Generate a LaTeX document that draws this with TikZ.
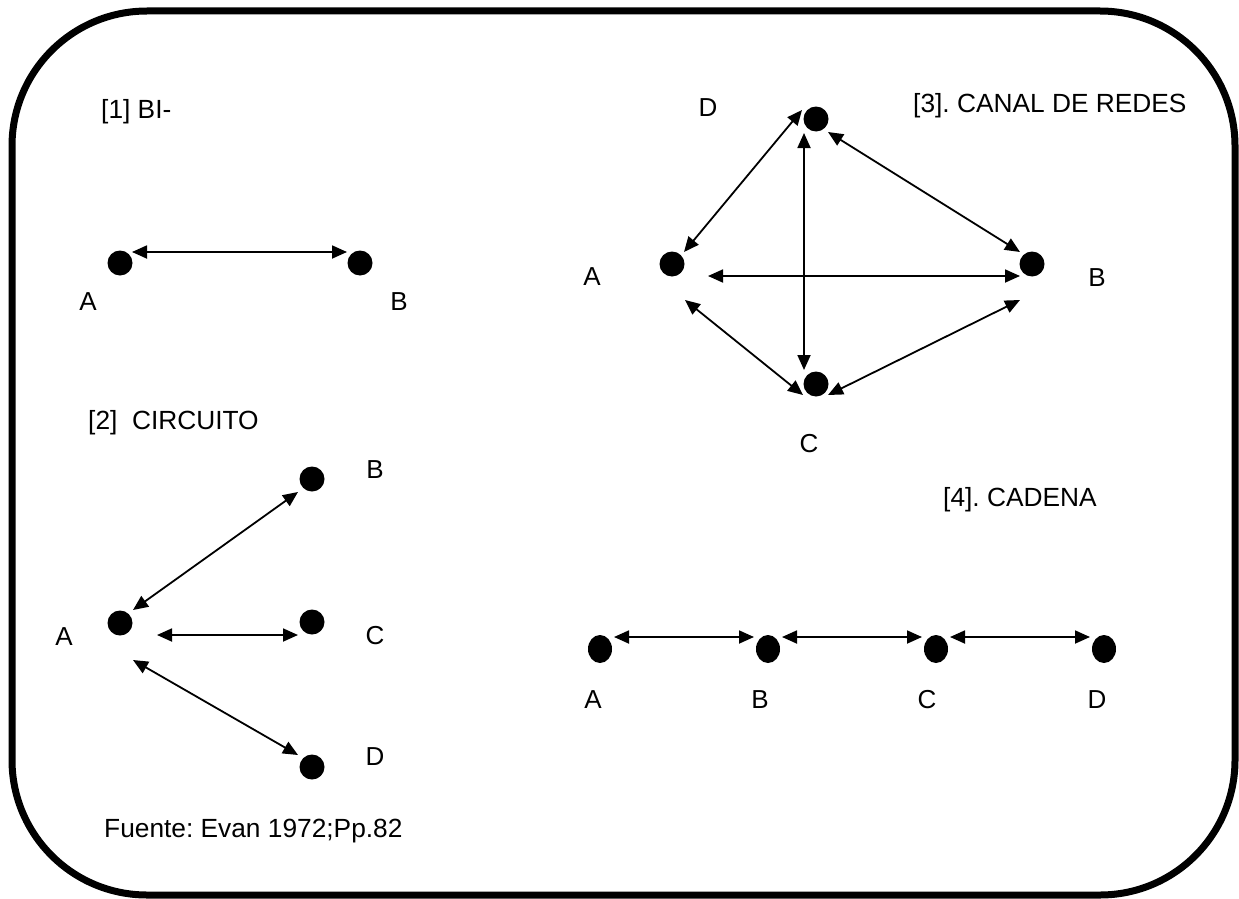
\documentclass[tikz,border=0pt]{standalone}
\usepackage{fontspec}
\setmainfont{Liberation Sans}
\usetikzlibrary{arrows.meta,calc,shapes.geometric}
\tikzset{
  dot/.style={circle,fill=black,inner sep=0pt,minimum size=25pt},
  dotv/.style={ellipse,fill=black,inner sep=0pt,minimum width=24pt,minimum height=28pt},
  lbl/.style={font=\fontsize{26}{30}\selectfont,inner sep=0pt},
  ttl/.style={font=\fontsize{26.3}{30}\selectfont\frenchspacing,inner sep=0pt,anchor=base west},
  link/.style={line width=1.8pt,{Triangle[length=15pt,width=13pt]}-{Triangle[length=15pt,width=13pt]}},
  frame/.style={line width=7pt,rounded corners=135pt}
}
\begin{document}
\begin{tikzpicture}[x=1pt,y=-1pt]
\useasboundingbox (0,0) rectangle (1239,899);
\draw[frame] (12,11) rectangle (1235,895);

% Panel 1
\node[ttl] (t1) at (101,118) {[1] BI-};
\node[dot] (A1) at (120,263) {};
\node[dot] (B1) at (360,263) {};
\node[lbl] (lA1) at (88,302) {A};
\node[lbl] (lB1) at (399,302) {B};
\draw[link] ($(A1)+(12,-11)$) -- ($(B1)+(-13,-11)$);

% Panel 2
\node[ttl] (t2) at (88,429) {[2]~ CIRCUITO};
\node[dot] (A2) at (120,623) {};
\node[dot] (B2) at (312,479) {};
\node[dot] (C2) at (312,622) {};
\node[dot] (D2) at (312,767) {};
\node[lbl] (lA2) at (64,637) {A};
\node[lbl] (lB2) at (375,470) {B};
\node[lbl] (lC2) at (375,636) {C};
\node[lbl] (lD2) at (375,757) {D};
\draw[link] ($(A2)+(13,-13)$) -- ($(B2)+(-14,13)$);
\draw[link] ($(A2)+(37,12)$) -- ($(C2)+(-14,13)$);
\draw[link] ($(A2)+(13,37)$) -- ($(D2)+(-14,-12)$);

% Panel 3
\node[ttl] (t3) at (913,112) {[3]. CANAL DE REDES};
\node[dot] (A3) at (672,264) {};
\node[dot] (B3) at (1032,264) {};
\node[dot] (C3) at (816,384) {};
\node[dot] (D3) at (816,119) {};
\node[lbl] (lD3) at (708,108) {D};
\node[lbl] (lA3) at (592,277) {A};
\node[lbl] (lB3) at (1097,278) {B};
\node[lbl] (lC3) at (809,444) {C};
\draw[link] ($(D3)+(-14,-9)$) -- ($(A3)+(12,-12)$);
\draw[link] ($(D3)+(-12,14)$) -- ($(C3)+(-12,-14)$);
\draw[link] ($(D3)+(12,13)$) -- ($(B3)+(-12,-12)$);
\draw[link] ($(A3)+(36,12)$) -- ($(B3)+(-12,12)$);
\draw[link] ($(A3)+(13,36)$) -- ($(C3)+(-13,11)$);
\draw[link] ($(C3)+(12,11)$) -- ($(B3)+(-12,36)$);

% Panel 4
\node[ttl] (t4) at (943,506) {[4]. CADENA};
\node[dotv] (A4) at (600,649) {};
\node[dotv] (B4) at (768,649) {};
\node[dotv] (C4) at (936,649) {};
\node[dotv] (D4) at (1104,649) {};
\node[lbl] (lA4) at (593,700) {A};
\node[lbl] (lB4) at (760,700) {B};
\node[lbl] (lC4) at (927,700) {C};
\node[lbl] (lD4) at (1097,700) {D};
\draw[link] ($(A4)+(14,-12)$) -- ($(B4)+(-14,-12)$);
\draw[link] ($(B4)+(14,-12)$) -- ($(C4)+(-14,-12)$);
\draw[link] ($(C4)+(14,-12)$) -- ($(D4)+(-14,-12)$);

% Source
\node[ttl] (src) at (104,837) {Fuente: Evan 1972;Pp.82};
\end{tikzpicture}
\end{document}
